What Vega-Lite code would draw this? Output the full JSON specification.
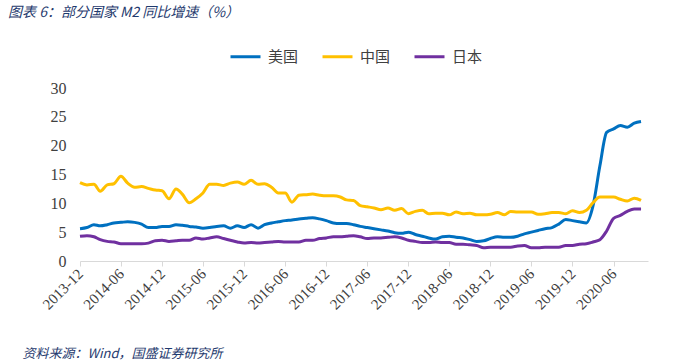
{
  "$schema": "https://vega.github.io/schema/vega-lite/v6.json",
  "autosize": {"type": "none"},
  "width": 568,
  "height": 173,
  "padding": {"left": 80, "top": 88, "right": 52, "bottom": 103},
  "background": "white",
  "title": {
    "text": "图表 6：部分国家 M2 同比增速（%）",
    "anchor": "start",
    "frame": "group",
    "dx": -72,
    "offset": 20,
    "font": "Noto Sans CJK SC",
    "fontSize": 14,
    "fontStyle": "italic",
    "fontWeight": "normal",
    "color": "#1F3A6E"
  },
  "config": {"view": {"stroke": null}},
  "data": {
    "values": [
      {"date": "2013-12-01", "美国": 5.6, "中国": 13.6, "日本": 4.3},
      {"date": "2014-01-01", "美国": 5.8, "中国": 13.2, "日本": 4.4},
      {"date": "2014-02-01", "美国": 6.3, "中国": 13.3, "日本": 4.2},
      {"date": "2014-03-01", "美国": 6.1, "中国": 12.1, "日本": 3.7},
      {"date": "2014-04-01", "美国": 6.3, "中国": 13.2, "日本": 3.4},
      {"date": "2014-05-01", "美国": 6.6, "中国": 13.4, "日本": 3.3},
      {"date": "2014-06-01", "美国": 6.7, "中国": 14.7, "日本": 3.0},
      {"date": "2014-07-01", "美国": 6.8, "中国": 13.5, "日本": 3.0},
      {"date": "2014-08-01", "美国": 6.7, "中国": 12.8, "日本": 3.0},
      {"date": "2014-09-01", "美国": 6.4, "中国": 12.9, "日本": 3.0},
      {"date": "2014-10-01", "美国": 5.8, "中国": 12.6, "日本": 3.1},
      {"date": "2014-11-01", "美国": 5.8, "中国": 12.3, "日本": 3.5},
      {"date": "2014-12-01", "美国": 6.0, "中国": 12.2, "日本": 3.6},
      {"date": "2015-01-01", "美国": 6.0, "中国": 10.8, "日本": 3.4},
      {"date": "2015-02-01", "美国": 6.3, "中国": 12.5, "日本": 3.5},
      {"date": "2015-03-01", "美国": 6.2, "中国": 11.6, "日本": 3.6},
      {"date": "2015-04-01", "美国": 6.0, "中国": 10.1, "日本": 3.6},
      {"date": "2015-05-01", "美国": 5.9, "中国": 10.8, "日本": 4.0},
      {"date": "2015-06-01", "美国": 5.7, "中国": 11.8, "日本": 3.8},
      {"date": "2015-07-01", "美国": 5.8, "中国": 13.3, "日本": 4.0},
      {"date": "2015-08-01", "美国": 6.0, "中国": 13.3, "日本": 4.2},
      {"date": "2015-09-01", "美国": 6.1, "中国": 13.1, "日本": 3.9},
      {"date": "2015-10-01", "美国": 5.7, "中国": 13.5, "日本": 3.6},
      {"date": "2015-11-01", "美国": 6.1, "中国": 13.7, "日本": 3.3},
      {"date": "2015-12-01", "美国": 5.8, "中国": 13.3, "日本": 3.1},
      {"date": "2016-01-01", "美国": 6.3, "中国": 14.0, "日本": 3.2},
      {"date": "2016-02-01", "美国": 5.7, "中国": 13.3, "日本": 3.1},
      {"date": "2016-03-01", "美国": 6.3, "中国": 13.4, "日本": 3.2},
      {"date": "2016-04-01", "美国": 6.6, "中国": 12.8, "日本": 3.3},
      {"date": "2016-05-01", "美国": 6.8, "中国": 11.8, "日本": 3.4},
      {"date": "2016-06-01", "美国": 7.0, "中国": 11.8, "日本": 3.3},
      {"date": "2016-07-01", "美国": 7.1, "中国": 10.2, "日本": 3.3},
      {"date": "2016-08-01", "美国": 7.3, "中国": 11.4, "日本": 3.3},
      {"date": "2016-09-01", "美国": 7.4, "中国": 11.5, "日本": 3.6},
      {"date": "2016-10-01", "美国": 7.5, "中国": 11.6, "日本": 3.6},
      {"date": "2016-11-01", "美国": 7.3, "中国": 11.4, "日本": 3.9},
      {"date": "2016-12-01", "美国": 7.0, "中国": 11.3, "日本": 4.0},
      {"date": "2017-01-01", "美国": 6.6, "中国": 11.3, "日本": 4.2},
      {"date": "2017-02-01", "美国": 6.5, "中国": 11.1, "日本": 4.2},
      {"date": "2017-03-01", "美国": 6.5, "中国": 10.6, "日本": 4.3},
      {"date": "2017-04-01", "美国": 6.3, "中国": 10.5, "日本": 4.4},
      {"date": "2017-05-01", "美国": 6.0, "中国": 9.6, "日本": 4.2},
      {"date": "2017-06-01", "美国": 5.8, "中国": 9.4, "日本": 3.9},
      {"date": "2017-07-01", "美国": 5.6, "中国": 9.2, "日本": 4.0},
      {"date": "2017-08-01", "美国": 5.4, "中国": 8.9, "日本": 4.0},
      {"date": "2017-09-01", "美国": 5.2, "中国": 9.2, "日本": 4.1},
      {"date": "2017-10-01", "美国": 4.9, "中国": 8.8, "日本": 4.2},
      {"date": "2017-11-01", "美国": 4.8, "中国": 9.1, "日本": 4.0},
      {"date": "2017-12-01", "美国": 5.0, "中国": 8.2, "日本": 3.6},
      {"date": "2018-01-01", "美国": 4.6, "中国": 8.6, "日本": 3.4},
      {"date": "2018-02-01", "美国": 4.3, "中国": 8.8, "日本": 3.2},
      {"date": "2018-03-01", "美国": 4.0, "中国": 8.2, "日本": 3.2},
      {"date": "2018-04-01", "美国": 3.8, "中国": 8.3, "日本": 3.3},
      {"date": "2018-05-01", "美国": 4.2, "中国": 8.3, "日本": 3.2},
      {"date": "2018-06-01", "美国": 4.3, "中国": 8.0, "日本": 3.2},
      {"date": "2018-07-01", "美国": 4.1, "中国": 8.5, "日本": 2.9},
      {"date": "2018-08-01", "美国": 4.0, "中国": 8.2, "日本": 2.9},
      {"date": "2018-09-01", "美国": 3.7, "中国": 8.3, "日本": 2.8},
      {"date": "2018-10-01", "美国": 3.4, "中国": 8.0, "日本": 2.7},
      {"date": "2018-11-01", "美国": 3.5, "中国": 8.0, "日本": 2.3},
      {"date": "2018-12-01", "美国": 3.9, "中国": 8.1, "日本": 2.4},
      {"date": "2019-01-01", "美国": 4.2, "中国": 8.4, "日本": 2.4},
      {"date": "2019-02-01", "美国": 4.1, "中国": 8.0, "日本": 2.4},
      {"date": "2019-03-01", "美国": 4.1, "中国": 8.6, "日本": 2.4},
      {"date": "2019-04-01", "美国": 4.3, "中国": 8.5, "日本": 2.6},
      {"date": "2019-05-01", "美国": 4.7, "中国": 8.5, "日本": 2.7},
      {"date": "2019-06-01", "美国": 5.0, "中国": 8.5, "日本": 2.3},
      {"date": "2019-07-01", "美国": 5.3, "中国": 8.1, "日本": 2.3},
      {"date": "2019-08-01", "美国": 5.6, "中国": 8.2, "日本": 2.4},
      {"date": "2019-09-01", "美国": 5.8, "中国": 8.4, "日本": 2.4},
      {"date": "2019-10-01", "美国": 6.4, "中国": 8.4, "日本": 2.4},
      {"date": "2019-11-01", "美国": 7.2, "中国": 8.2, "日本": 2.7},
      {"date": "2019-12-01", "美国": 7.0, "中国": 8.7, "日本": 2.7},
      {"date": "2020-01-01", "美国": 6.8, "中国": 8.4, "日本": 2.9},
      {"date": "2020-02-01", "美国": 6.6, "中国": 8.8, "日本": 3.0},
      {"date": "2020-03-01", "美国": 9.5, "中国": 10.1, "日本": 3.3},
      {"date": "2020-04-01", "美国": 16.5, "中国": 11.1, "日本": 3.7},
      {"date": "2020-05-01", "美国": 22.3, "中国": 11.1, "日本": 5.2},
      {"date": "2020-06-01", "美国": 22.9, "中国": 11.1, "日本": 7.4},
      {"date": "2020-07-01", "美国": 23.5, "中国": 10.7, "日本": 7.9},
      {"date": "2020-08-01", "美国": 23.2, "中国": 10.4, "日本": 8.6},
      {"date": "2020-09-01", "美国": 23.9, "中国": 10.9, "日本": 9.0},
      {"date": "2020-10-01", "美国": 24.2, "中国": 10.5, "日本": 9.0}
    ]
  },
  "transform": [
    {"fold": ["美国", "中国", "日本"], "as": ["country", "value"]}
  ],
  "mark": {"type": "line", "strokeWidth": 3, "interpolate": "monotone"},
  "encoding": {
    "x": {
      "field": "date",
      "type": "temporal",
      "scale": {
        "type": "utc",
        "domain": [
          {"year": 2013, "month": 12, "date": 1, "utc": true},
          {"year": 2020, "month": 11, "date": 1, "utc": true}
        ]
      },
      "axis": {
        "values": [
          {"year": 2013, "month": 12, "date": 1, "utc": true},
          {"year": 2014, "month": 6, "date": 1, "utc": true},
          {"year": 2014, "month": 12, "date": 1, "utc": true},
          {"year": 2015, "month": 6, "date": 1, "utc": true},
          {"year": 2015, "month": 12, "date": 1, "utc": true},
          {"year": 2016, "month": 6, "date": 1, "utc": true},
          {"year": 2016, "month": 12, "date": 1, "utc": true},
          {"year": 2017, "month": 6, "date": 1, "utc": true},
          {"year": 2017, "month": 12, "date": 1, "utc": true},
          {"year": 2018, "month": 6, "date": 1, "utc": true},
          {"year": 2018, "month": 12, "date": 1, "utc": true},
          {"year": 2019, "month": 6, "date": 1, "utc": true},
          {"year": 2019, "month": 12, "date": 1, "utc": true},
          {"year": 2020, "month": 6, "date": 1, "utc": true}
        ],
        "format": "%Y-%m",
        "labelAngle": -45,
        "labelAlign": "right",
        "labelBaseline": "middle",
        "labelPadding": 5,
        "labelFont": "Liberation Serif, DejaVu Serif, serif",
        "labelFontSize": 15,
        "labelColor": "#404040",
        "labelOverlap": false,
        "labelFlush": false,
        "grid": false,
        "domainColor": "#d9d9d9",
        "tickColor": "#d9d9d9",
        "tickSize": 5,
        "title": "资料来源：Wind，国盛证券研究所",
        "titleFont": "Noto Sans CJK SC",
        "titleFontSize": 13,
        "titleFontStyle": "italic",
        "titleFontWeight": "normal",
        "titleColor": "#1F3A6E",
        "titleAlign": "left",
        "titleAnchor": "start",
        "titleX": -58,
        "titleY": 96,
        "titleBaseline": "alphabetic"
      }
    },
    "y": {
      "field": "value",
      "type": "quantitative",
      "scale": {"domain": [0, 30], "nice": false},
      "axis": {
        "values": [0, 5, 10, 15, 20, 25, 30],
        "grid": false,
        "domain": false,
        "ticks": false,
        "tickSize": 0,
        "labelPadding": 14,
        "labelFont": "Liberation Serif, DejaVu Serif, serif",
        "labelFontSize": 16,
        "labelColor": "#404040",
        "title": null
      }
    },
    "color": {
      "field": "country",
      "type": "nominal",
      "scale": {"domain": ["美国", "中国", "日本"], "range": ["#0070C0", "#FFC000", "#7030A0"]},
      "legend": {
        "title": null,
        "orient": "none",
        "direction": "horizontal",
        "legendX": 149,
        "legendY": -48,
        "symbolType": "stroke",
        "symbolSize": 900,
        "symbolStrokeWidth": 3,
        "labelFont": "Noto Sans CJK SC",
        "labelFontSize": 15,
        "labelColor": "#404040",
        "labelOffset": 6,
        "columnPadding": 17
      }
    }
  }
}
